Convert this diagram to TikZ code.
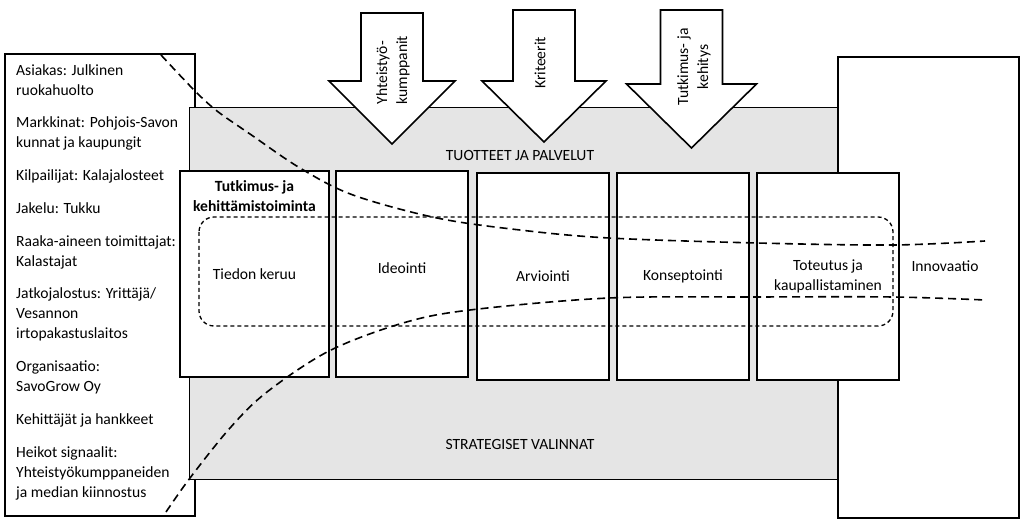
\documentclass[tikz,border=0pt]{standalone}
\usepackage{fontspec}
\setmainfont{Carlito}
\usetikzlibrary{positioning}
\newcommand{\diagfont}{\fontsize{15.6}{20}\selectfont}
\tikzset{%
sidebox/.style={draw,line width=1.6pt,fill=white,anchor=north west,inner sep=0},
panel/.style={draw,line width=1.2pt,fill=black!10,anchor=north west,inner sep=0},
stage/.style={draw,line width=1.6pt,fill=white,minimum width=132pt,minimum height=206pt,align=center,font=\diagfont},
plain/.style={font=\diagfont,align=center,inner sep=0},
bigarrow/.style={draw,line width=1.6pt,fill=white,line join=miter},
focusline/.style={draw,line width=1.3pt,dash pattern=on 4pt off 3pt,rounded corners=15pt},
trend/.style={draw,line width=1.6pt,dash pattern=on 8pt off 5pt}
}

\begin{document}
\begin{tikzpicture}[x=1pt,y=-1pt]
  \useasboundingbox (0,0) rectangle (1024,526);

  % left column: operating environment
  \node[sidebox,minimum width=190pt,minimum height=462pt] (env) at (4,53) {};
  \node[plain,align=left,anchor=north west] (envlist) at (16,64)
    {Asiakas: Julkinen\\ruokahuolto\\[12.75pt]
     Markkinat: Pohjois-Savon\\kunnat ja kaupungit\\[12.75pt]
     Kilpailijat: Kalajalosteet\\[12.75pt]
     Jakelu: Tukku\\[12.75pt]
     Raaka-aineen toimittajat:\\Kalastajat\\[12.75pt]
     Jatkojalostus: Yrittäjä/\\Vesannon\\irtopakastuslaitos\\[12.75pt]
     Organisaatio:\\SavoGrow Oy\\[12.75pt]
     Kehittäjät ja hankkeet\\[12.75pt]
     Heikot signaalit:\\Yhteistyökumppaneiden\\ja median kiinnostus};

  % grey background
  \node[panel,minimum width=648pt,minimum height=372pt] (bg) at (189,107) {};
  \node[plain] (products) at (520,155) {TUOTTEET JA PALVELUT};
  \node[plain] (strategy) at (520,444) {STRATEGISET VALINNAT};

  % right column
  \node[sidebox,minimum width=181pt,minimum height=461pt] (result) at (837,56) {};
  \node[plain] (innov) at (945,266) {Innovaatio};

  % process stages
  \node[stage,minimum width=149pt] (collect) at (254.5,274) {Tiedon keruu};
  \node[plain,font=\diagfont\bfseries,below=10pt of collect.north] (rdtitle) {Tutkimus- ja\\kehittämistoiminta};
  \node[stage,right=5.4pt of collect] (idea) {Ideointi\\[-8pt]};
  \node[stage,minimum height=207pt,right=7.4pt of idea,yshift=-2.5pt] (assess) {Arviointi};
  \node[stage,minimum height=207pt,right=6.4pt of assess] (concept) {Konseptointi};
  \node[stage,minimum height=207pt,minimum width=142pt,right=6.4pt of concept] (launch) {Toteutus ja\\kaupallistaminen};

  \draw[focusline] (199,217) rectangle (893,326);

  % arrows from above
  \foreach \cx/\tp/\hb/\hw/\tip in {392/13/81/63/144,544/10/81/62/142,691.5/10/84/65/148}
    \draw[bigarrow] (\cx-31,\tp) -- (\cx+31,\tp) -- (\cx+31,\hb) -- (\cx+\hw,\hb)
      -- (\cx,\tip) -- (\cx-\hw,\hb) -- (\cx-31,\hb) -- cycle;
  \node[plain,align=left,rotate=90] (partners) at (393,70) {Yhteistyö-\\kumppanit};
  \node[plain,rotate=90] (criteria) at (540,63) {Kriteerit};
  \node[plain,rotate=90] (research) at (694,67) {Tutkimus- ja\\kehitys};

  % funnel curves
  \draw[trend] plot[smooth,tension=0.55] coordinates
    {(161,55) (194,90) (217,111) (250,134) (300,168) (353,195) (437,218) (520,230)
     (609,238) (757,243) (893,245) (985,241)};
  \draw[trend] plot[smooth,tension=0.55] coordinates
    {(166,512) (190,478) (230,428) (267,392) (329,351) (403,323) (470,310)
     (609,298) (757,297) (893,297) (985,300)};
\end{tikzpicture}
\end{document}
